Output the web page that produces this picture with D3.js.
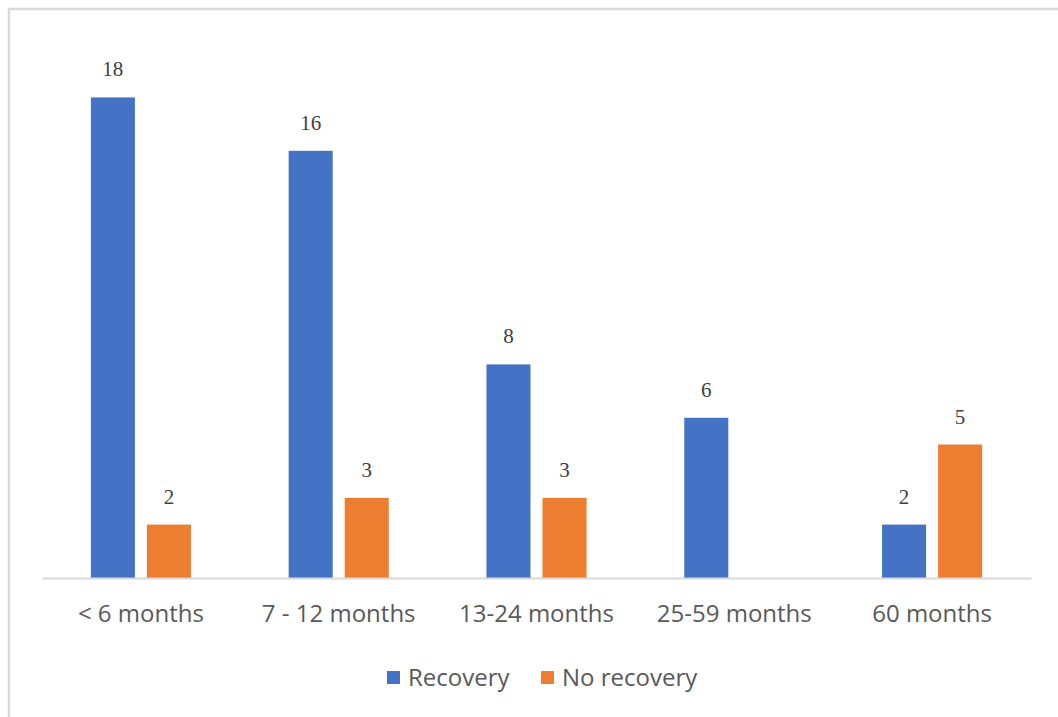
<!DOCTYPE html>
<html><head><meta charset="utf-8">
<script src="https://cdn.jsdelivr.net/npm/d3@7"></script>
<style>body{margin:0;background:#fff}</style>
</head><body>
<svg id="c" width="1058" height="717"></svg>
<script>
const categories = ["< 6 months", "7 - 12 months", "13-24 months", "25-59 months", "60 months"];
const seriesNames = ["Recovery", "No recovery"];
const recovery = [18, 16, 8, 6, 2];
const noRecovery = [2, 3, 3, null, 5];
const colors = ["#4472C4", "#ED7D31"];

const svg = d3.select("#c");
svg.append("rect").attr("x", 9).attr("y", 9).attr("width", 1060).attr("height", 720)
  .attr("fill", "#fff").attr("stroke", "#d9d9d9").attr("stroke-width", 2.5);

const x0 = d3.scaleBand().domain(categories).range([42, 1031]).paddingInner(0.494).paddingOuter(0.247);
const x1 = d3.scaleBand().domain(seriesNames).range([0, x0.bandwidth()]).paddingInner(0.214);
const y = d3.scaleLinear().domain([0, 20]).range([578, 44]);

const data = categories.map((c, i) => ({cat: c, vals: [recovery[i], noRecovery[i]]}));

const g = svg.append("g");
const groups = g.selectAll("g.grp").data(data).join("g")
  .attr("transform", d => `translate(${x0(d.cat)},0)`);
groups.selectAll("rect").data(d => d.vals.map((v, j) => ({s: seriesNames[j], v, j})).filter(e => e.v != null))
  .join("rect")
  .attr("x", e => x1(e.s)).attr("width", x1.bandwidth())
  .attr("y", e => y(e.v)).attr("height", e => y(0) - y(e.v))
  .attr("fill", e => colors[e.j]);
groups.selectAll("text").data(d => d.vals.map((v, j) => ({s: seriesNames[j], v, j})).filter(e => e.v != null))
  .join("text")
  .attr("x", e => x1(e.s) + x1.bandwidth() / 2)
  .attr("y", e => y(e.v) - 21)
  .attr("text-anchor", "middle")
  .attr("font-family", "Liberation Serif, serif").attr("font-size", 21).attr("fill", "#404040")
  .text(e => e.v);

// axis
const ax = svg.append("g").attr("transform", "translate(0,578)")
  .call(d3.axisBottom(x0).tickSize(0).tickPadding(27));
ax.select(".domain").attr("stroke", "#d9d9d9").attr("stroke-width", 2);
ax.selectAll("text").attr("font-family", "Open Sans, sans-serif").attr("font-size", 24).attr("fill", "#595959");

// legend
const legendPos = [387, 541];
const lg = svg.append("g");
seriesNames.forEach((s, i) => {
  lg.append("rect").attr("x", legendPos[i]).attr("y", 671).attr("width", 13).attr("height", 13).attr("fill", colors[i]);
  lg.append("text").attr("x", legendPos[i] + 21).attr("y", 686)
    .attr("font-family", "Open Sans, sans-serif").attr("font-size", 24).attr("fill", "#595959").text(s);
});
</script>
</body></html>
